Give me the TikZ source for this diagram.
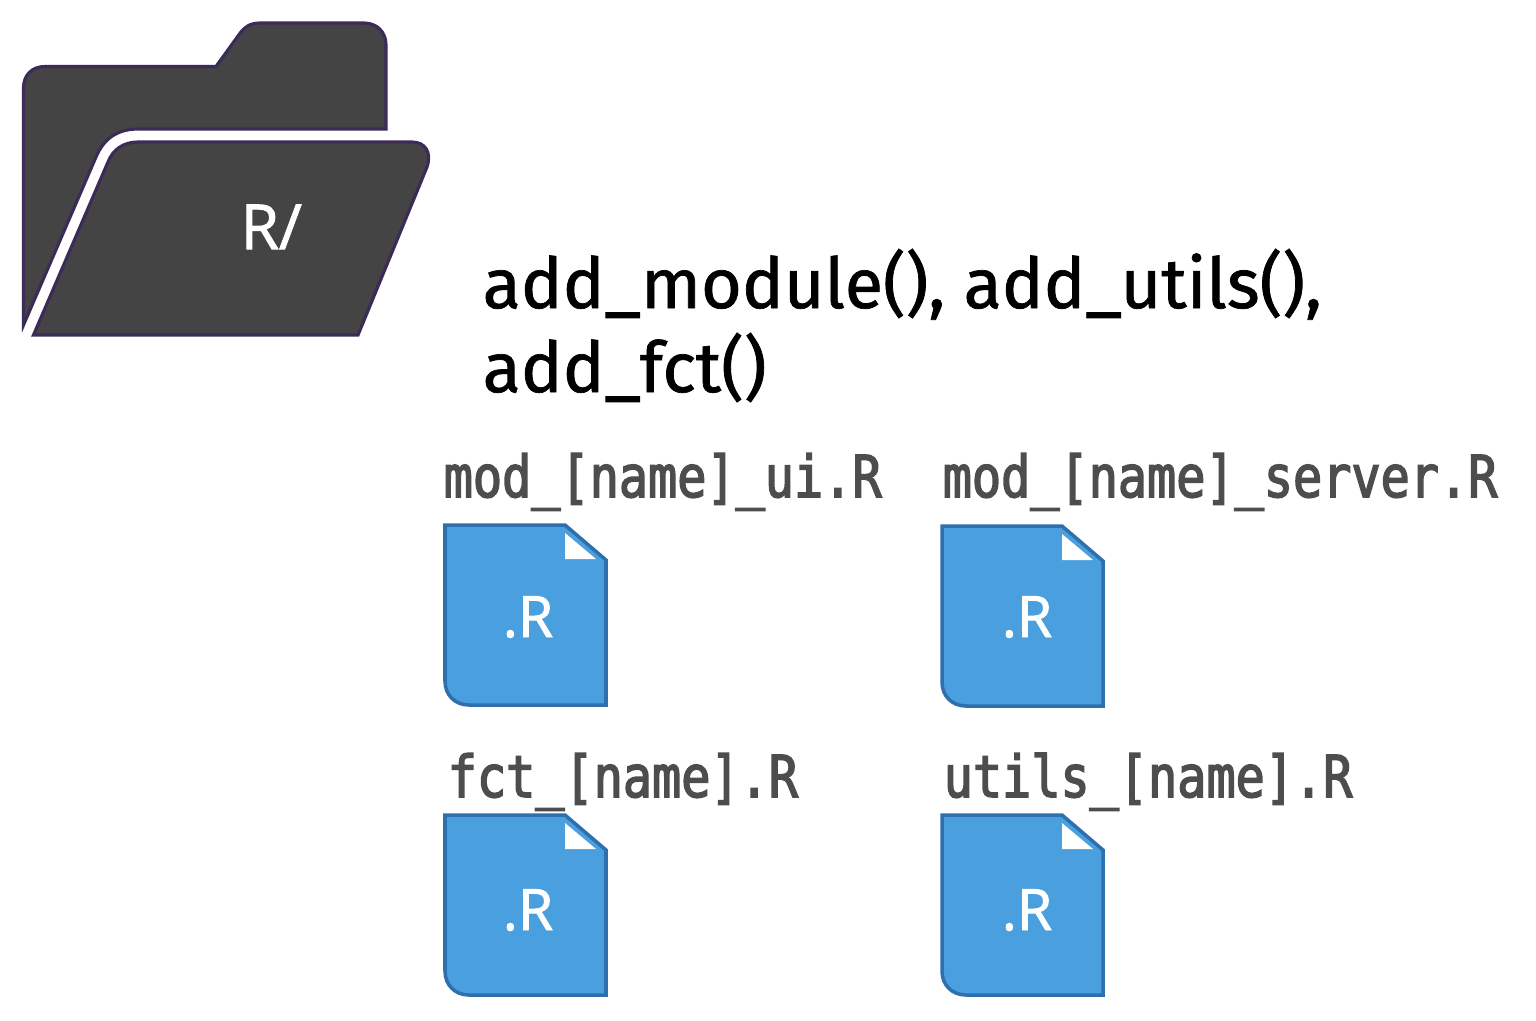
\documentclass[tikz,border=0pt]{standalone}
\usepackage{fontspec}
\setmainfont[FakeBold=1.6]{Open Sans}
\newfontfamily\headfont[FakeBold=1.0]{Fira Sans}
\newfontfamily\namefont[FakeStretch=0.84,FakeBold=2.6]{DejaVu Sans Mono}
\definecolor{folder}{HTML}{444444}
\definecolor{folderedge}{HTML}{3B2C57}
\definecolor{fileblue}{HTML}{4A9FDE}
\definecolor{fileedge}{HTML}{2E6FAE}
\definecolor{monotext}{HTML}{4D4D4D}
\newcommand{\pxfont}[1]{\fontsize{\fpeval{#1*0.28453}pt}{\fpeval{#1*0.28453}pt}\selectfont}
\tikzset{
  x=0.01cm,y=-0.01cm,
  filename/.style={anchor=base west,inner sep=0pt,text=monotext,font=\namefont\pxfont{57.7}},
  filetag/.style={anchor=base,inner sep=0pt,text=white,font=\pxfont{57}},
  headline/.style={anchor=base west,inner sep=0pt,text=black,font=\headfont\pxfont{70}},
  fold/.style={fill=folder,draw=folderedge,line width=0.9pt,line join=miter},
}
\newcommand{\rfile}[2]{%
  \fill[fileblue,draw=fileedge,line width=1pt]
    (#1,#2) -- (#1+120,#2) -- (#1+161,#2+35) -- (#1+161,#2+180) -- (#1+24,#2+180)
    .. controls (#1+10,#2+180) and (#1,#2+170) .. (#1,#2+156) -- cycle;
  \fill[white] (#1+120,#2+8) -- (#1+151,#2+34) -- (#1+120,#2+34) -- cycle;
}
\begin{document}
\begin{tikzpicture}
\useasboundingbox (0,0) rectangle (1536,1020);
\fill[white] (0,0) rectangle (1536,1020);
\draw[fold] (23.5,325) -- (23.5,88) .. controls (23.5,75) and (32,66.5) .. (45,66.5)
  -- (216,66.5) -- (238,36) .. controls (244,27) and (250,23) .. (260,23)
  -- (364,23) .. controls (377,23) and (386,32) .. (386,45) -- (386,129)
  -- (138,129) .. controls (118,129) and (104,138) .. (96,157) -- cycle;
\draw[fold] (33.5,335) -- (108,162) .. controls (113,149) and (124,142) .. (138,142)
  -- (412,142) .. controls (425,142) and (432,152) .. (427,167)
  -- (358,335) -- cycle;
\node[anchor=base west,inner sep=0pt,text=white,font=\pxfont{62}] (rdir) at (240,249) {R/};
\node[headline] (fn1) at (482,308) {add\_module(), add\_utils(),};
\node[headline] (fn2) at (482,392) {add\_fct()};
\node[filename] (a) at (443,497) {mod\_[name]\_ui.R};
\node[filename] (b) at (942,497) {mod\_[name]\_server.R};
\node[filename] (c) at (447,797) {fct\_[name].R};
\node[filename] (d) at (943,797) {utils\_[name].R};
\rfile{445}{525}\rfile{942}{526}\rfile{445}{815}\rfile{942}{815}
\node[filetag] (ta) at (528,637) {.R};
\node[filetag] (tb) at (1027,637) {.R};
\node[filetag] (tc) at (528,930) {.R};
\node[filetag] (td) at (1027,930) {.R};
\end{tikzpicture}
\end{document}
